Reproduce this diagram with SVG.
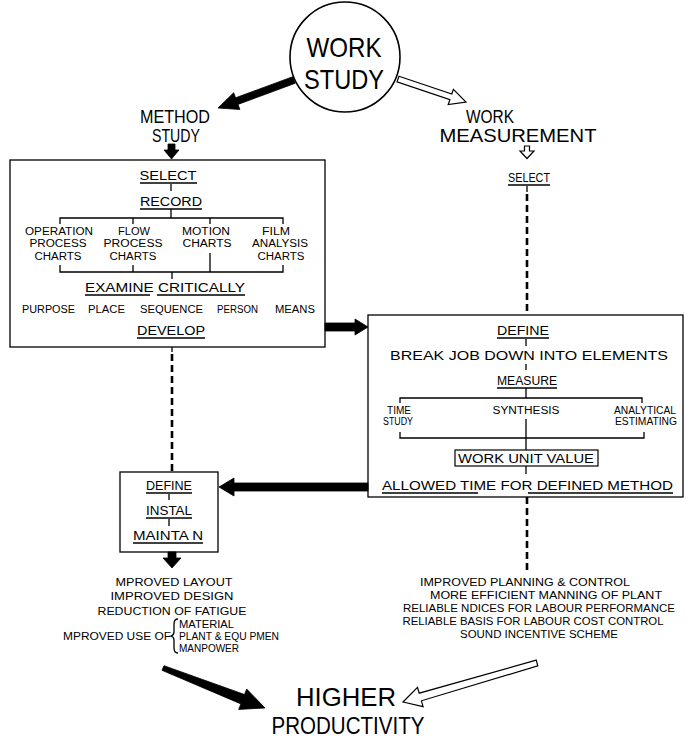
<svg xmlns="http://www.w3.org/2000/svg" width="686" height="740" viewBox="0 0 686 740">
<style>
.t{font-family:"Liberation Sans",Arial,sans-serif;fill:#000}
.c{text-anchor:middle}
.ln{stroke:#000;stroke-width:1.3;fill:none}
.box{fill:#fff;stroke:#000;stroke-width:1.3}
.dash{stroke:#000;stroke-width:2.6;stroke-dasharray:7 4;fill:none}
.blk{fill:#000;stroke:#000;stroke-width:0.8}
.wht{fill:#fff;stroke:#000;stroke-width:1.2;stroke-linejoin:miter}
.f28{font-size:28px}
.f25{font-size:25px}
.f19{font-size:19px}
.f13{font-size:13px}
.f12{font-size:12px}
.f10{font-size:10px}
</style>
<rect width="686" height="740" fill="#fff"/>

<g id="work-study">
<circle cx="345" cy="57" r="55" fill="#fff" stroke="#000" stroke-width="1.6"/>
<text class="t c f28" x="344" y="57" textLength="75" lengthAdjust="spacingAndGlyphs">WORK</text>
<text class="t c f28" x="344" y="89" textLength="80" lengthAdjust="spacingAndGlyphs">STUDY</text>
</g>

<g id="method-study">
<text class="t c f19" x="175" y="123" textLength="70" lengthAdjust="spacingAndGlyphs">METHOD</text>
<text class="t c f19" x="176" y="142" textLength="48" lengthAdjust="spacingAndGlyphs">STUDY</text>
</g>

<g id="work-measurement">
<text class="t c f19" x="490" y="123" textLength="48" lengthAdjust="spacingAndGlyphs">WORK</text>
<text class="t c f19" x="518" y="142" textLength="157" lengthAdjust="spacingAndGlyphs">MEASUREMENT</text>
<text class="t c f12" x="529" y="182" textLength="42" lengthAdjust="spacingAndGlyphs">SELECT</text>
<line class="ln" x1="508" y1="185" x2="550" y2="185"/>
</g>

<g id="method-box">
<rect class="box" x="10" y="160" width="315" height="187"/>
<text class="t c f12" x="168" y="180" textLength="57" lengthAdjust="spacingAndGlyphs">SELECT</text>
<line class="ln" x1="140" y1="183" x2="197" y2="183"/>
<line class="ln" x1="171" y1="184" x2="171" y2="191"/>
<text class="t c f12" x="171" y="206" textLength="62" lengthAdjust="spacingAndGlyphs">RECORD</text>
<line class="ln" x1="140" y1="209" x2="202" y2="209"/>
<path class="ln" d="M171 209V218M60 224V218H283V224M133 218V224M210 218V224"/>
<text class="t c f10" x="59" y="235" textLength="68" lengthAdjust="spacingAndGlyphs">OPERATION</text>
<text class="t c f10" x="58" y="247" textLength="57" lengthAdjust="spacingAndGlyphs">PROCESS</text>
<text class="t c f10" x="58" y="260" textLength="47" lengthAdjust="spacingAndGlyphs">CHARTS</text>
<text class="t c f10" x="134" y="235" textLength="32" lengthAdjust="spacingAndGlyphs">FLOW</text>
<text class="t c f10" x="133" y="247" textLength="59" lengthAdjust="spacingAndGlyphs">PROCESS</text>
<text class="t c f10" x="133" y="260" textLength="47" lengthAdjust="spacingAndGlyphs">CHARTS</text>
<text class="t c f10" x="206" y="235" textLength="48" lengthAdjust="spacingAndGlyphs">MOTION</text>
<text class="t c f10" x="207" y="247" textLength="49" lengthAdjust="spacingAndGlyphs">CHARTS</text>
<text class="t c f10" x="276" y="235" textLength="28" lengthAdjust="spacingAndGlyphs">FILM</text>
<text class="t c f10" x="280" y="247" textLength="56" lengthAdjust="spacingAndGlyphs">ANALYSIS</text>
<text class="t c f10" x="281" y="260" textLength="47" lengthAdjust="spacingAndGlyphs">CHARTS</text>
<path class="ln" d="M60 265V272H283V265M133 265V272M210 253V272M172 272V279"/>
<text class="t c f13" x="165" y="292" textLength="160" lengthAdjust="spacingAndGlyphs">EXAMINE CRITICALLY</text>
<path class="ln" d="M85 295H150M157 295H245"/>
<text class="t f10" x="22" y="313" textLength="53" lengthAdjust="spacingAndGlyphs">PURPOSE</text>
<text class="t f10" x="88" y="313" textLength="37" lengthAdjust="spacingAndGlyphs">PLACE</text>
<text class="t f10" x="140" y="313" textLength="63" lengthAdjust="spacingAndGlyphs">SEQUENCE</text>
<text class="t f10" x="217" y="313" textLength="41" lengthAdjust="spacingAndGlyphs">PERSON</text>
<text class="t f10" x="275" y="313" textLength="40" lengthAdjust="spacingAndGlyphs">MEANS</text>
<text class="t c f12" x="171" y="335" textLength="68" lengthAdjust="spacingAndGlyphs">DEVELOP</text>
<line class="ln" x1="137" y1="338" x2="205" y2="338"/>
</g>

<g id="measure-box">
<rect class="box" x="368" y="315" width="315" height="182"/>
<text class="t c f12" x="523" y="335" textLength="52" lengthAdjust="spacingAndGlyphs">DEFINE</text>
<line class="ln" x1="497" y1="338" x2="549" y2="338"/>
<line class="ln" x1="526" y1="339" x2="526" y2="346"/>
<text class="t f13" x="390" y="360" textLength="278" lengthAdjust="spacingAndGlyphs">BREAK JOB DOWN INTO ELEMENTS</text>
<line class="ln" x1="526" y1="364" x2="526" y2="370"/>
<text class="t c f12" x="527" y="385" textLength="60" lengthAdjust="spacingAndGlyphs">MEASURE</text>
<line class="ln" x1="497" y1="388" x2="557" y2="388"/>
<path class="ln" d="M526 388V398M400 403V398H642V403"/>
<text class="t c f10" x="399" y="414" textLength="24" lengthAdjust="spacingAndGlyphs">TIME</text>
<text class="t c f10" x="398" y="425" textLength="30" lengthAdjust="spacingAndGlyphs">STUDY</text>
<text class="t c f10" x="526" y="414" textLength="67" lengthAdjust="spacingAndGlyphs">SYNTHESIS</text>
<text class="t c f10" x="645" y="414" textLength="62" lengthAdjust="spacingAndGlyphs">ANALYTICAL</text>
<text class="t c f10" x="646" y="425" textLength="62" lengthAdjust="spacingAndGlyphs">ESTIMATING</text>
<path class="ln" d="M526 419V450M400 432V438H644V432"/>
<rect x="455" y="450" width="143" height="16" fill="none" stroke="#000" stroke-width="1.2"/>
<text class="t c f12" x="526" y="463" textLength="136" lengthAdjust="spacingAndGlyphs">WORK UNIT VALUE</text>
<line class="ln" x1="526" y1="466" x2="526" y2="474"/>
<text class="t f13" x="382" y="490" textLength="291" lengthAdjust="spacingAndGlyphs">ALLOWED TIME FOR DEFINED METHOD</text>
<path class="ln" d="M382 493H478M528 493H673"/>
</g>

<g id="implement-box">
<rect class="box" x="120" y="472" width="98" height="80"/>
<text class="t c f12" x="169" y="490" textLength="46" lengthAdjust="spacingAndGlyphs">DEFINE</text>
<line class="ln" x1="146" y1="493" x2="192" y2="493"/>
<line class="ln" x1="169" y1="494" x2="169" y2="500"/>
<text class="t c f12" x="169" y="515" textLength="46" lengthAdjust="spacingAndGlyphs">INSTAL</text>
<line class="ln" x1="146" y1="518" x2="192" y2="518"/>
<line class="ln" x1="169" y1="519" x2="169" y2="526"/>
<text class="t c f12" x="168" y="540" textLength="70" lengthAdjust="spacingAndGlyphs">MAINTA N</text>
<line class="ln" x1="133" y1="543" x2="203" y2="543"/>
</g>

<g id="method-results">
<text class="t c f10" x="174" y="586" textLength="117" lengthAdjust="spacingAndGlyphs">MPROVED LAYOUT</text>
<text class="t c f10" x="172" y="600" textLength="123" lengthAdjust="spacingAndGlyphs">IMPROVED DESIGN</text>
<text class="t c f10" x="172" y="615" textLength="149" lengthAdjust="spacingAndGlyphs">REDUCTION OF FATIGUE</text>
<text class="t f10" x="63" y="640" textLength="108" lengthAdjust="spacingAndGlyphs">MPROVED USE OF</text>
<path class="ln" d="M178 619Q174 619 174 624V632Q174 635 171 636Q174 637 174 640V648Q174 653 178 653"/>
<text class="t f10" x="179" y="628" textLength="55" lengthAdjust="spacingAndGlyphs">MATERIAL</text>
<text class="t f10" x="179" y="640" textLength="100" lengthAdjust="spacingAndGlyphs">PLANT &amp; EQU PMEN</text>
<text class="t f10" x="179" y="652" textLength="60" lengthAdjust="spacingAndGlyphs">MANPOWER</text>
</g>

<g id="measure-results">
<text class="t c f10" x="525" y="586" textLength="210" lengthAdjust="spacingAndGlyphs">IMPROVED PLANNING &amp; CONTROL</text>
<text class="t c f10" x="546" y="599" textLength="232" lengthAdjust="spacingAndGlyphs">MORE EFFICIENT MANNING OF PLANT</text>
<text class="t c f10" x="539" y="612" textLength="272" lengthAdjust="spacingAndGlyphs">RELIABLE  NDICES FOR LABOUR PERFORMANCE</text>
<text class="t c f10" x="533" y="625" textLength="261" lengthAdjust="spacingAndGlyphs">RELIABLE BASIS FOR LABOUR COST CONTROL</text>
<text class="t c f10" x="539" y="638" textLength="158" lengthAdjust="spacingAndGlyphs">SOUND INCENTIVE SCHEME</text>
</g>

<g id="higher-productivity">
<text class="t c" style="font-size:26px" x="346" y="706" textLength="100" lengthAdjust="spacingAndGlyphs">HIGHER</text>
<text class="t c" style="font-size:24px" x="348" y="734" textLength="153" lengthAdjust="spacingAndGlyphs">PRODUCTIVITY</text>
</g>

<g id="connectors">
<polygon class="blk" points="292.8,76.7 235.6,97.8 233.7,92.7 218,108 239.9,109.5 238,104.4 295.2,83.3"/>
<polygon class="wht" points="399,76.2 451.8,94 453.4,89.3 466,102 448.2,104.5 449.9,99.7 397,81.8"/>
<polygon class="blk" points="168,144 175,144 175,150 179,150 171.5,159 164,150 168,150"/>
<polygon class="wht" points="524.5,146 529.5,146 529.5,151 534,151 527,158.5 520,151 524.5,151"/>
<line class="ln" x1="527" y1="186" x2="527" y2="192"/>
<line class="dash" x1="527" y1="194" x2="527" y2="315"/>
<polygon class="blk" points="325,323 355,323 355,319 368,327 355,335 355,331 325,331"/>
<line class="ln" x1="172" y1="347" x2="172" y2="352"/>
<line class="dash" x1="172" y1="354" x2="172" y2="472"/>
<polygon class="blk" points="368,483 234,483 234,478 219,487 234,496 234,491 368,491"/>
<polygon class="blk" points="168,552 176,552 176,558 181,558 172,568 163,558 168,558"/>
<line class="dash" x1="527" y1="497" x2="527" y2="572"/>
<polygon class="blk" points="164.0,665.7 244.5,694.5 246.7,689.0 265,708 238.7,709.4 240.9,703.9 162.0,670.3"/>
<polygon class="wht" points="536.2,660.1 419.2,693.2 417.5,687.4 403,702 423.1,706.6 421.4,700.8 537.8,665.9"/>
</g>
</svg>
